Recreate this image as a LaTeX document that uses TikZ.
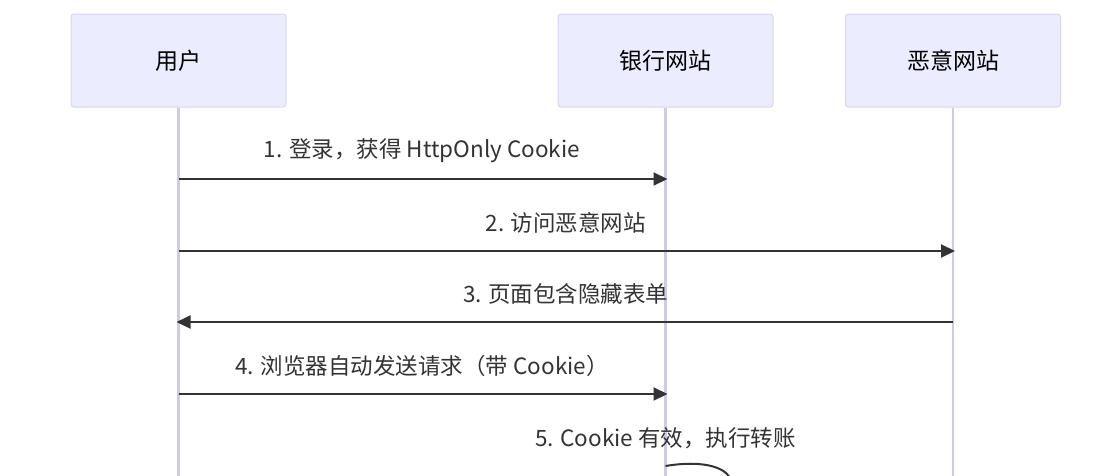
\documentclass[tikz,border=0pt]{standalone}
\usepackage{fontspec}
\setmainfont{Noto Sans CJK SC}
\usepackage{tikz}
\usetikzlibrary{arrows.meta, positioning, calc}
\definecolor{sqFill}{HTML}{ECECFF}
\definecolor{sqEdge}{HTML}{D9D4EF}
\definecolor{sqLife}{HTML}{D0C9E8}
\definecolor{sqInk}{HTML}{333333}

\begin{document}
\begin{tikzpicture}[x=1pt,y=-1pt,
  font=\fontsize{22.5}{27}\selectfont,
  actor/.style={draw=sqEdge,fill=sqFill,line width=1pt,rounded corners=3pt,
                minimum width=215pt,minimum height=93pt,text=black,
                font=\fontsize{23}{27}\selectfont},
  life/.style={draw=sqLife,line width=2.2pt},
  msg/.style={draw=sqInk,line width=2pt,
              -{Triangle[length=14pt,width=13pt]}},
  lbl/.style={text=sqInk,inner sep=0pt,anchor=center}]

\useasboundingbox (0,0) rectangle (1114,475);
\clip (0,0) rectangle (1114,475);

% ===== Actors =====
\node[actor] (user) at (178.5,60.5) {用户};
\node[actor] (bank) at (665.5,60.5) {银行网站};
\node[actor] (evil) at (953,60.5) {恶意网站};

% ===== Lifelines =====
\coordinate (bottom) at (0,480);
\draw[life] (user.south) -- (user |- bottom);
\draw[life] (bank.south) -- (bank |- bottom);
\draw[life] (evil.south) -- (evil |- bottom);

% ===== Messages =====
\coordinate (m1) at (0,179);
\coordinate (m2) at (0,251);
\coordinate (m3) at (0,322);
\coordinate (m4) at (0,394);
\coordinate (m5) at (0,466);

\draw[msg] (user |- m1) -- ($(bank |- m1)+(2,0)$);
\node[lbl] (t1) at ($(user |- m1)!0.5!(bank |- m1)+(0,-28)$) {1. 登录，获得 HttpOnly Cookie};

\draw[msg] (user |- m2) -- ($(evil |- m2)+(2,0)$);
\node[lbl] (t2) at ($(user |- m2)!0.5!(evil |- m2)+(0,-28)$) {2. 访问恶意网站};

\draw[msg] (evil |- m3) -- ($(user |- m3)+(-2,0)$);
\node[lbl] (t3) at ($(user |- m3)!0.5!(evil |- m3)+(0,-28)$) {3. 页面包含隐藏表单};

\draw[msg] (user |- m4) -- ($(bank |- m4)+(2,0)$);
\node[lbl] (t4) at ($(user |- m4)!0.5!(bank |- m4)+(0,-28)$) {4. 浏览器自动发送请求（带 Cookie）};

% ===== Self call on the bank =====
\node[lbl] (t5) at ($(bank |- m5)+(0,-28)$) {5. Cookie 有效，执行转账};
\draw[msg] (bank |- m5) .. controls ($(bank |- m5)+(84,-14)$) and ($(bank |- m5)+(84,42)$) .. ($(bank |- m5)+(2,28)$);
\end{tikzpicture}
\end{document}
